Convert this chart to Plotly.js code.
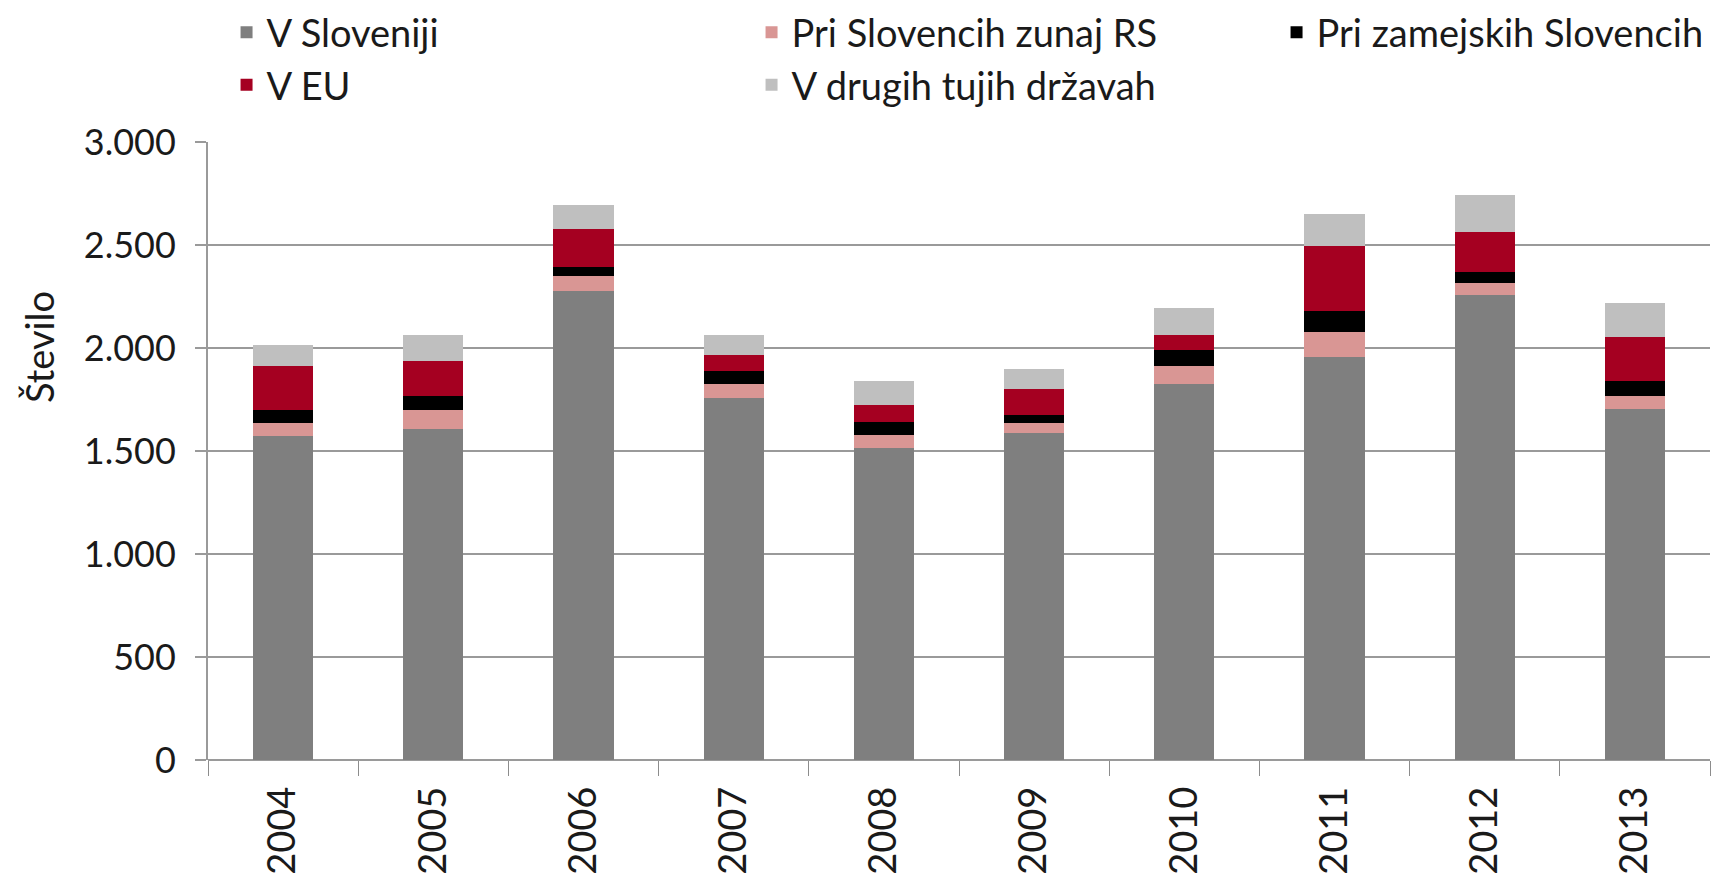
<!DOCTYPE html>
<html>
<head>
<meta charset="utf-8">
<script src="https://cdn.plot.ly/plotly-3.0.1.min.js"></script>
<style>html,body{margin:0;padding:0;background:#fff;}#chart{width:1717px;height:879px;}</style>
</head>
<body>
<div id="chart"></div>
<script>
// Data
var years = ['2004','2005','2006','2007','2008','2009','2010','2011','2012','2013'];
var vSloveniji          = [1575, 1609, 2279, 1755, 1516, 1589, 1826, 1956, 2255, 1706];
var priSlovencihZunajRS = [  62,   88,   72,   71,   61,   48,   85,  121,   60,   63];
var priZamejskih        = [  60,   69,   44,   61,   63,   37,   81,  103,   56,   69];
var vEU                 = [ 214,  169,  182,   81,   81,  128,   72,  315,  194,  215];
var vDrugihTujih        = [ 105,  129,  117,   96,  117,   96,  130,  154,  177,  165];

var seriesNames  = ['V Sloveniji', 'Pri Slovencih zunaj RS', 'Pri zamejskih Slovencih', 'V EU', 'V drugih tujih državah'];
var seriesValues = [vSloveniji, priSlovencihZunajRS, priZamejskih, vEU, vDrugihTujih];
var seriesColors = ['#7f7f7f', '#d99694', '#000000', '#a50021', '#bfbfbf'];
// legend entry widths (px); the last column entry is narrower so the legend fits the page
var legendWidths = [461, 461, 380, 461, 461];

var FONT = 'Lato, "Noto Sans", "DejaVu Sans", sans-serif';
var TXT = '#1a1a1a';

var traces = seriesNames.map(function(name, i){
  return {
    type: 'bar',
    name: name,
    x: years,
    y: seriesValues[i],
    legendwidth: legendWidths[i],
    marker: {color: seriesColors[i], line: {width: 0}},
    hoverinfo: 'x+y+name'
  };
});

var layout = {
  width: 1717,
  height: 879,
  barmode: 'stack',
  bargap: 0.6,
  separators: ',.',
  paper_bgcolor: '#ffffff',
  plot_bgcolor: '#ffffff',
  margin: {l: 208, r: 7, t: 142, b: 119, pad: 0, autoexpand: false},
  font: {family: FONT, size: 36, color: TXT},
  showlegend: true,
  legend: {
    orientation: 'h',
    x: -0.0003,
    xanchor: 'left',
    y: 1.228,
    yanchor: 'top',
    entrywidth: 461,
    entrywidthmode: 'pixels',
    indentation: 19,
    traceorder: 'normal',
    font: {family: FONT, size: 38, color: TXT},
    bgcolor: 'rgba(0,0,0,0)',
    borderwidth: 0
  },
  xaxis: {
    type: 'category',
    tickangle: -90,
    ticks: 'outside',
    tickson: 'boundaries',
    ticklen: 15,
    tickwidth: 1,
    tickcolor: '#8c8c8c',
    ticklabelstandoff: 18,
    showgrid: false,
    showline: false,
    zeroline: false,
    tickfont: {family: FONT, size: 38, color: TXT}
  },
  yaxis: {
    range: [0, 3000],
    dtick: 500,
    tick0: 0,
    tickformat: ',d',
    ticks: 'outside',
    ticklen: 11,
    tickwidth: 2,
    tickcolor: '#9a9a9a',
    ticklabelstandoff: 12,
    showgrid: true,
    gridcolor: '#9a9a9a',
    gridwidth: 2,
    showline: true,
    linecolor: '#9a9a9a',
    linewidth: 2,
    zeroline: true,
    zerolinecolor: '#9a9a9a',
    zerolinewidth: 2,
    tickfont: {family: FONT, size: 36, color: TXT}
  },
  annotations: [{
    text: 'Število',
    xref: 'paper', yref: 'paper',
    x: -0.1126, y: 0.668,
    xanchor: 'center', yanchor: 'middle',
    textangle: -90,
    showarrow: false,
    font: {family: FONT, size: 38, color: TXT}
  }]
};

Plotly.newPlot('chart', traces, layout, {displayModeBar: false, responsive: false});
</script>
</body>
</html>
